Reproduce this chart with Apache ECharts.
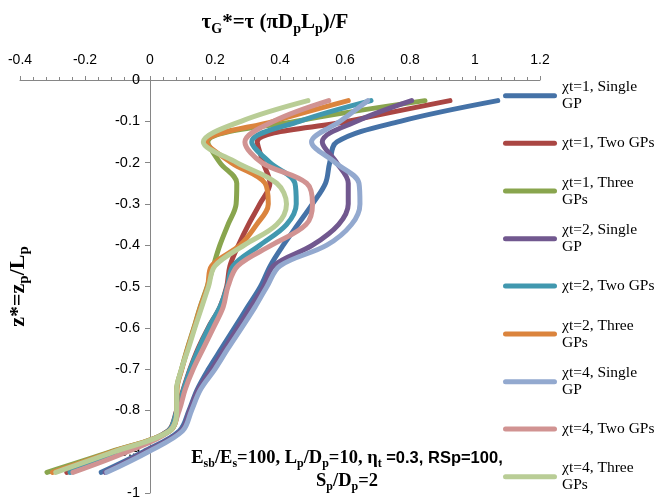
<!DOCTYPE html>
<html>
<head>
<meta charset="utf-8">
<script src="https://cdn.jsdelivr.net/npm/echarts@6/dist/echarts.min.js"></script>
<style>
html,body{margin:0;padding:0;background:#fff;}
#chart{width:659px;height:500px;}
</style>
</head>
<body>
<div id="chart"></div>
<script>
// depth z* = z/Lp of each data point
const depth = [-0.05,-0.10,-0.15,-0.20,-0.25,-0.30,-0.35,-0.40,-0.45,-0.50,-0.55,-0.60,-0.65,-0.70,-0.75,-0.80,-0.85,-0.90,-0.95];

// tau_G* values for each series
const chi1Single = [1.07,0.77,0.575,0.553,0.54,0.50,0.455,0.41,0.37,0.34,0.30,0.26,0.22,0.18,0.145,0.12,0.09,-0.02,-0.15];
const chi1Two    = [0.923,0.61,0.33,0.348,0.369,0.338,0.303,0.272,0.246,0.236,0.215,0.179,0.148,0.123,0.102,0.082,0.055,-0.09,-0.256];
const chi1Three  = [0.846,0.45,0.178,0.215,0.267,0.265,0.24,0.215,0.195,0.176,0.154,0.135,0.115,0.097,0.082,0.082,0.06,-0.12,-0.317];
const chi2Single = [0.805,0.636,0.53,0.574,0.61,0.61,0.58,0.50,0.38,0.35,0.31,0.27,0.23,0.19,0.148,0.122,0.095,-0.015,-0.138];
const chi2Two    = [0.68,0.46,0.313,0.369,0.446,0.45,0.42,0.338,0.256,0.238,0.215,0.18,0.15,0.124,0.103,0.083,0.056,-0.085,-0.246];
const chi2Three  = [0.61,0.38,0.174,0.25,0.354,0.364,0.328,0.277,0.19,0.177,0.155,0.136,0.116,0.098,0.083,0.083,0.06,-0.115,-0.30];
const chi4Single = [0.67,0.585,0.497,0.57,0.643,0.646,0.62,0.544,0.40,0.36,0.323,0.282,0.24,0.20,0.155,0.128,0.10,-0.005,-0.133];
const chi4Two    = [0.55,0.38,0.292,0.344,0.482,0.50,0.48,0.374,0.27,0.24,0.225,0.195,0.164,0.133,0.108,0.09,0.06,-0.07,-0.237];
const chi4Three  = [0.486,0.28,0.164,0.267,0.39,0.42,0.39,0.29,0.20,0.18,0.159,0.138,0.118,0.097,0.082,0.082,0.06,-0.11,-0.29];

const seriesNames = ['χt=1, Single\nGP','χt=1, Two GPs','χt=1, Three\nGPs','χt=2, Single\nGP','χt=2, Two GPs','χt=2, Three\nGPs','χt=4, Single\nGP','χt=4, Two GPs','χt=4, Three\nGPs'];
const seriesValues = [chi1Single,chi1Two,chi1Three,chi2Single,chi2Two,chi2Three,chi4Single,chi4Two,chi4Three];
const seriesColors = ['#4572A7','#AA4643','#89A54E','#71588F','#4198AF','#DB843D','#93A9CF','#D19392','#B9CD96'];

const xTicks = {min:-0.4, max:1.2, interval:0.2};
const yTicks = {min:-1, max:0, interval:0.1};

const legendCenters = [95.7,143.3,191,238.7,286,334,381.7,429,476.7];
const LH = 17;

const chart = echarts.init(document.getElementById('chart'), null, {renderer:'canvas'});

const serif = "'Liberation Serif','DejaVu Serif',serif";
const sans = "'Liberation Sans',Arial,sans-serif";

const GRID_LEFT = 20, GRID_RIGHT = 119;
const plotW = 659 - GRID_LEFT - GRID_RIGHT;
// y axis drawn where x = 0
const yAxisOffset = -plotW * (0 - xTicks.min) / (xTicks.max - xTicks.min);

const series = seriesValues.map((vals,i)=>({
  name: seriesNames[i],
  type:'line',
  smooth:0.35,
  symbol:'none',
  showSymbol:false,
  color: seriesColors[i],
  lineStyle:{width:5,color:seriesColors[i],cap:'round',join:'round'},
  data: vals.map((v,j)=>[v, depth[j]]),
  animation:false
}));

const legends = seriesNames.map((n,i)=>{
  const two = n.indexOf('\n')>=0;
  return {
    data:[n],
    orient:'vertical',
    left:503,
    top: legendCenters[i] - (two ? 1.5*LH : 0.5*LH),
    padding:0,
    itemWidth:54,
    itemHeight:5,
    itemGap:0,
    icon:'path://M2.5,0H51.5A2.5,2.5,0,0,1,51.5,5H2.5A2.5,2.5,0,0,1,2.5,0Z',
    itemStyle:{borderWidth:0},
    selectedMode:false,
    textStyle:{fontFamily:serif,fontSize:15.5,color:'#000',lineHeight:LH,padding: two?[LH,0,0,0]:0}
  };
});

const option = {
  backgroundColor:'#fff',
  animation:false,
  title:[
    {
      text:'{b|τ}{s|G}{b|*=τ (πD}{s|p}{b|L}{s|p}{b|)/F}',
      left:270, top:4, textAlign:'center',
      textStyle:{rich:{
        b:{fontFamily:serif,fontWeight:'bold',fontSize:21,color:'#000',lineHeight:27,verticalAlign:'middle'},
        s:{fontFamily:serif,fontWeight:'bold',fontSize:14,color:'#000',lineHeight:27,verticalAlign:'bottom'}
      }}
    },
    {
      text:'{b|E}{s|sb}{b|/E}{s|s}{b|=100, L}{s|p}{b|/D}{s|p}{b|=10, η}{s|t}{c| =0.3, RSp=100,}\n{b|S}{s|p}{b|/D}{s|p}{b|=2}',
      left:342, top:442, textAlign:'center',
      textStyle:{rich:{
        b:{fontFamily:serif,fontWeight:'bold',fontSize:18.5,color:'#000',lineHeight:23},
        s:{fontFamily:serif,fontWeight:'bold',fontSize:12,color:'#000',lineHeight:23,verticalAlign:'bottom'},
        c:{fontFamily:sans,fontWeight:'bold',fontSize:16.5,color:'#000',lineHeight:23}
      }}
    }
  ],
  legend: legends,
  grid:{left:GRID_LEFT,right:GRID_RIGHT,top:80,bottom:7,containLabel:false,outerBoundsMode:'none'},
  xAxis:{
    type:'value', position:'top',
    min:xTicks.min, max:xTicks.max, interval:xTicks.interval,
    axisLine:{show:true,onZero:false,lineStyle:{color:'#868686',width:1}},
    axisTick:{show:true,inside:false,length:4,lineStyle:{color:'#868686'}},
    minorTick:{show:true,splitNumber:5,length:3,lineStyle:{color:'#868686'}},
    splitLine:{show:false},
    axisLabel:{margin:13,fontFamily:sans,fontSize:14,color:'#000'}
  },
  yAxis:{
    type:'value', position:'left', offset: yAxisOffset,
    min:yTicks.min, max:yTicks.max, interval:yTicks.interval,
    axisLine:{show:true,onZero:false,lineStyle:{color:'#868686',width:1}},
    axisTick:{show:true,inside:false,length:5,lineStyle:{color:'#868686'}},
    splitLine:{show:false},
    axisLabel:{margin:10,fontFamily:sans,fontSize:14.5,color:'#000'},
    name:'{a|z*=z}{s|p}{a|/L}{s|p}',
    nameLocation:'middle', nameRotate:90, nameGap:118,
    nameTextStyle:{rich:{
      a:{fontFamily:serif,fontWeight:'bold',fontSize:22,color:'#000',lineHeight:27},
      s:{fontFamily:serif,fontWeight:'bold',fontSize:15,color:'#000',lineHeight:27,verticalAlign:'bottom'}
    }}
  },
  series: series
};
chart.setOption(option);
</script>
</body>
</html>
